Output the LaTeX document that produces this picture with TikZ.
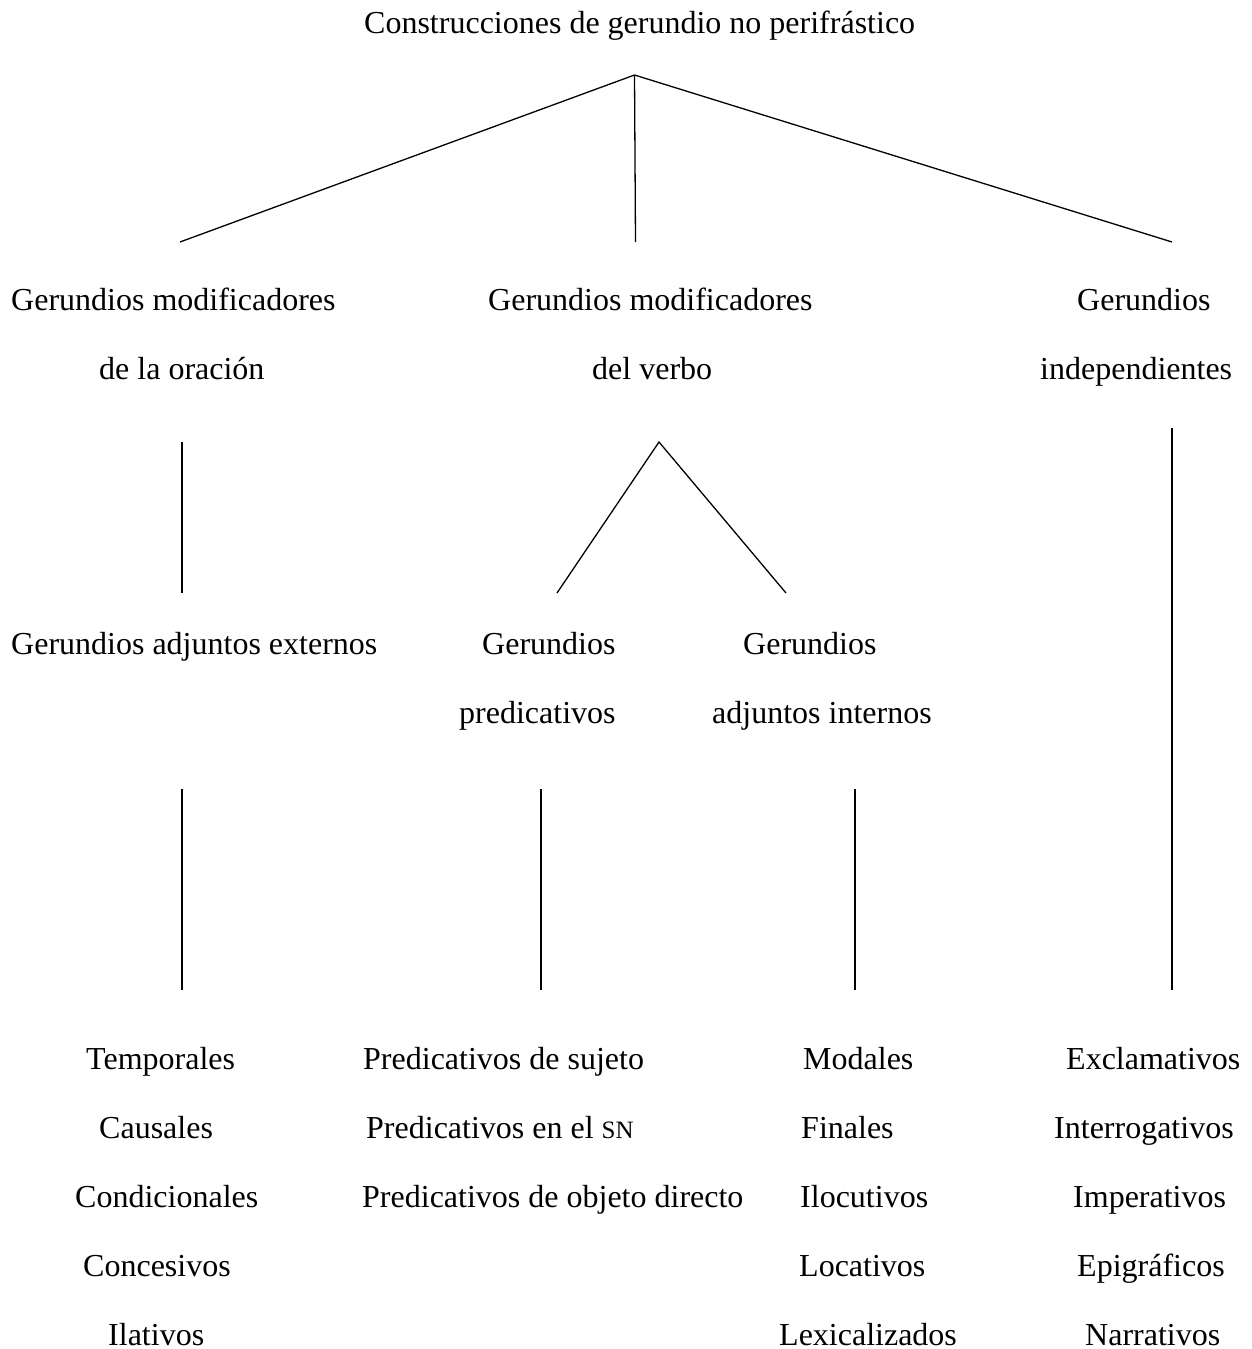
\documentclass[tikz,border=0pt]{standalone}
\usepackage{fontspec}
\setmainfont{Liberation Serif}
\begin{document}
\begin{tikzpicture}[x=1pt,y=-1pt,
  txt/.style={anchor=base west, inner sep=0pt, font=\fontsize{32}{38}\selectfont},
  conn/.style={line width=1.3pt, line cap=butt}]
\useasboundingbox (0,0) rectangle (1251,1349);
% texts
\node[txt] (root) at (364,33) {Construcciones de gerundio no perifrástico};
\node[txt] (ora1) at (11,310) {Gerundios modificadores};
\node[txt] (ora2) at (99,379) {de la oración};
\node[txt] (ver1) at (488,310) {Gerundios modificadores};
\node[txt] (ver2) at (592,379) {del verbo};
\node[txt] (ind1) at (1077,310) {Gerundios};
\node[txt] (ind2) at (1040,379) {independientes};
\node[txt] (ext) at (11,654) {Gerundios adjuntos externos};
\node[txt] (pre1) at (482,654) {Gerundios};
\node[txt] (pre2) at (459,723) {predicativos};
\node[txt] (int1) at (743,654) {Gerundios};
\node[txt] (int2) at (712,723) {adjuntos internos};
% bottom lists
\node[txt] (t1) at (86,1069) {Temporales};
\node[txt] (t2) at (99,1138) {Causales};
\node[txt] (t3) at (75,1207) {Condicionales};
\node[txt] (t4) at (83,1276) {Concesivos};
\node[txt] (t5) at (108,1345) {Ilativos};
\node[txt] (p1) at (363,1069) {Predicativos de sujeto};
\node[txt] (p2) at (366,1138) {Predicativos en el {\fontsize{25}{30}\selectfont SN}};
\node[txt] (p3) at (362,1207) {Predicativos de objeto directo};
\node[txt] (m1) at (803,1069) {Modales};
\node[txt] (m2) at (801,1138) {Finales};
\node[txt] (m3) at (800,1207) {Ilocutivos};
\node[txt] (m4) at (799,1276) {Locativos};
\node[txt] (m5) at (779,1345) {Lexicalizados};
\node[txt] (e1) at (1066,1069) {Exclamativos};
\node[txt] (e2) at (1054,1138) {Interrogativos};
\node[txt] (e3) at (1073,1207) {Imperativos};
\node[txt] (e4) at (1077,1276) {Epigráficos};
\node[txt] (e5) at (1085,1345) {Narrativos};
% connector end points
\coordinate (a0) at (634.5,75);
\coordinate (a1) at (180,242);
\coordinate (a2) at (635.5,242);
\coordinate (a3) at (1172,242);
\coordinate (b0) at (182,442);
\coordinate (b1) at (182,593);
\coordinate (c0) at (659,442);
\coordinate (c1) at (557,593);
\coordinate (c2) at (786,593);
\coordinate (d0) at (1172,428);
\coordinate (d1) at (1172,990);
\coordinate (f0) at (182,789);
\coordinate (f1) at (182,990);
\coordinate (g0) at (541,789);
\coordinate (g1) at (541,990);
\coordinate (h0) at (855,789);
\coordinate (h1) at (855,990);
% connectors
\draw[conn] (a1) -- (a0) -- (a3);
\draw[conn] (a0) -- (a2);
\draw[conn] (b0) -- (b1);
\draw[conn] (c1) -- (c0) -- (c2);
\draw[conn] (d0) -- (d1);
\draw[conn] (f0) -- (f1);
\draw[conn] (g0) -- (g1);
\draw[conn] (h0) -- (h1);
\end{tikzpicture}
\end{document}
